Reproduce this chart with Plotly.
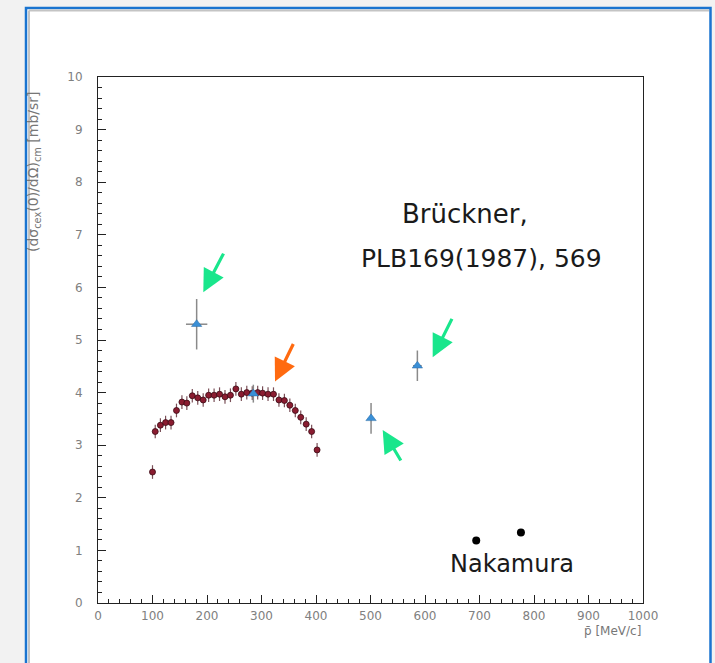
import plotly.graph_objects as go

# ---- data ----
red_p = [100, 105, 114.5, 124, 134, 144, 154, 163, 173, 183, 193, 203, 213, 223, 233, 243,
         253, 263, 273, 283, 293, 302, 312, 322, 332, 342, 352, 362, 372, 382, 392, 402]
red_y = [2.49, 3.26, 3.38, 3.43, 3.43, 3.66, 3.82, 3.80, 3.94, 3.90, 3.86, 3.95, 3.95, 3.97,
         3.92, 3.95, 4.07, 3.97, 4.00, 3.99, 4.00, 3.99, 3.97, 3.97, 3.86, 3.85, 3.76, 3.66,
         3.53, 3.40, 3.26, 2.91]
red_ey = 0.13
red_ex = 4.5

blue_p = [181, 285, 501, 586]
blue_y = [5.30, 3.98, 3.51, 4.51]
blue_ey = [0.48, 0.17, 0.29, 0.29]
blue_ex = [19.6, 5, 4, 8]

naka_p = [694, 776]
naka_y = [1.19, 1.34]

x_ticks = [0, 100, 200, 300, 400, 500, 600, 700, 800, 900, 1000]
y_ticks = [0, 1, 2, 3, 4, 5, 6, 7, 8, 9, 10]

# arrows: tip (data) and tail offset (pixels)
arrow_x = [193.2, 324.8, 614.1, 522.4]
arrow_y = [5.91, 4.21, 4.67, 3.29]
arrow_ax = [21, 19, 20, 19]
arrow_ay = [-40, -39, -40, 32]
arrow_col = ["#19e68c", "#ff6a10", "#19e68c", "#19e68c"]

W, H = 715, 663
L, R, T, B = 98, 643, 77, 603


def px(x):
    return (x - L) / (R - L)


def py(y):
    return (B - y) / (B - T)


fig = go.Figure()

fig.add_trace(go.Scatter(
    x=red_p, y=red_y, mode="markers",
    marker=dict(color="#8a1c30", size=6, line=dict(color="#3a0a14", width=0.8)),
    error_y=dict(type="constant", value=red_ey, color="#7a5058", thickness=1.2, width=0),
    error_x=dict(type="constant", value=red_ex, color="#5a3038", thickness=1.2, width=0),
    showlegend=False, hoverinfo="skip"))

fig.add_trace(go.Scatter(
    x=blue_p, y=blue_y, mode="markers",
    marker=dict(color="#3a8fd6", size=9, symbol="triangle-up", line=dict(color="#2a6aa6", width=0.5)),
    error_y=dict(type="data", array=blue_ey, color="#8a8a8a", thickness=1.5, width=0),
    error_x=dict(type="data", array=blue_ex, color="#8a8a8a", thickness=1.5, width=0),
    showlegend=False, hoverinfo="skip"))

fig.add_trace(go.Scatter(
    x=naka_p, y=naka_y, mode="markers",
    marker=dict(color="#000000", size=8),
    showlegend=False, hoverinfo="skip"))

shapes = [
    # white card with blue border
    dict(type="rect", xref="paper", yref="paper", layer="below",
         x0=px(26), x1=px(710.5), y0=py(8), y1=py(700),
         fillcolor="white", line=dict(color="#1a74d0", width=2.5)),
    # inner gray edges
    dict(type="line", xref="paper", yref="paper", layer="below",
         x0=px(29), x1=px(709), y0=py(10.5), y1=py(10.5),
         line=dict(color="#c4c4c4", width=2)),
    dict(type="line", xref="paper", yref="paper", layer="below",
         x0=px(29), x1=px(29), y0=py(10.5), y1=py(700),
         line=dict(color="#c4c4c4", width=2)),
]

annotations = []
for x, y, ax, ay, c in zip(arrow_x, arrow_y, arrow_ax, arrow_ay, arrow_col):
    annotations.append(dict(x=x, y=y, xref="x", yref="y", ax=ax, ay=ay,
                            axref="pixel", ayref="pixel", text="", showarrow=True,
                            arrowhead=2, arrowsize=1.4, arrowwidth=3.2, arrowcolor=c))

txtfont = "DejaVu Sans, Noto Sans, sans-serif"
annotations += [
    dict(x=px(465), y=py(214), xref="paper", yref="paper", text="Brückner,",
         xanchor="center", yanchor="middle",
         showarrow=False, font=dict(family=txtfont, size=26, color="#1a1a1a")),
    dict(x=px(481), y=py(258), xref="paper", yref="paper", text="PLB169(1987), 569",
         xanchor="center", yanchor="middle",
         showarrow=False, font=dict(family=txtfont, size=25, color="#1a1a1a")),
    dict(x=px(512), y=py(564), xref="paper", yref="paper", text="Nakamura",
         xanchor="center", yanchor="middle",
         showarrow=False, font=dict(family=txtfont, size=24, color="#1a1a1a")),
    dict(x=px(34), y=py(172), xref="paper", yref="paper",
         xanchor="center", yanchor="middle",
         text="(dσ<sub>cex</sub>(0)/dΩ)<sub>cm</sub> [mb/sr]", textangle=-90,
         showarrow=False, font=dict(family="DejaVu Sans", size=14, color="#777777")),
    dict(x=px(643), y=py(631), xref="paper", yref="paper", xanchor="right", yanchor="middle",
         text="p̄ [MeV/c]", showarrow=False,
         font=dict(family="DejaVu Sans", size=12, color="#777777")),
]

axis_common = dict(
    showline=True, linecolor="#222222", linewidth=1, mirror=True,
    ticks="inside", ticklen=8, tickcolor="#222222", tickwidth=1,
    showgrid=False, zeroline=False,
    tickfont=dict(family="DejaVu Sans", size=12, color="#808080"),
)

fig.update_layout(
    width=W, height=H,
    margin=dict(l=L, r=W - R, t=T, b=H - B, pad=0),
    paper_bgcolor="#f2f2f2", plot_bgcolor="white",
    xaxis=dict(range=[0, 1000], tickvals=x_ticks, ticktext=[str(v) for v in x_ticks],
               minor=dict(ticks="inside", ticklen=4, dtick=20, tickcolor="#222222", showgrid=False),
               ticklabelstandoff=2, **axis_common),
    yaxis=dict(range=[0, 10], tickvals=y_ticks, ticktext=[str(v) for v in y_ticks],
               minor=dict(ticks="inside", ticklen=4, dtick=0.2, tickcolor="#222222", showgrid=False),
               ticklabelstandoff=12, **axis_common),
    shapes=shapes, annotations=annotations,
)

fig.write_html("out.html")
